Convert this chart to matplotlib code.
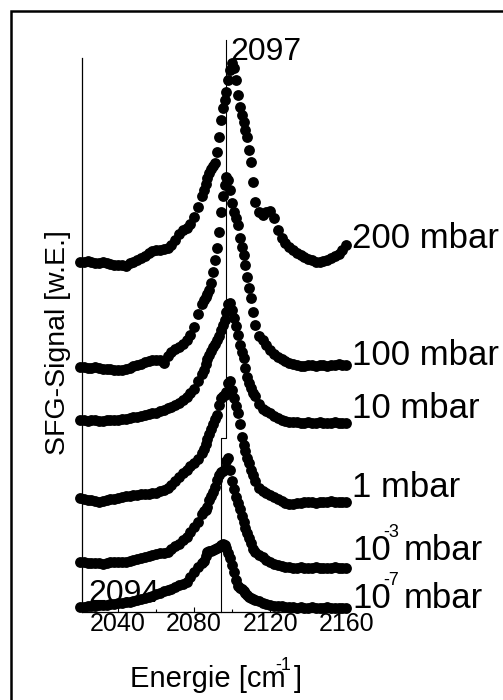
import matplotlib.pyplot as plt
from matplotlib.patches import Rectangle

plt.rcParams['font.family'] = ['Liberation Sans', 'DejaVu Sans']

# Energy axis in cm^-1 (1 cm^-1 steps across the CO band, 2 cm^-1 elsewhere)
energy = [2020, 2022, 2024, 2026, 2028, 2030, 2032, 2034, 2036, 2038, 2040,
          2042, 2044, 2046, 2048, 2050, 2052, 2054, 2056, 2058, 2060, 2062,
          2064, 2066, 2068, 2070, 2072, 2074, 2076, 2078, 2080, 2082, 2084,
          2085, 2086, 2087, 2088, 2089, 2090, 2091, 2092, 2093, 2094, 2095,
          2096, 2097, 2098, 2099, 2100, 2101, 2102, 2103, 2104, 2105, 2106,
          2107, 2108, 2109, 2110, 2111,
          2112, 2114, 2116, 2118, 2120, 2122, 2124, 2126, 2128, 2130, 2132,
          2134, 2136, 2138, 2140, 2142, 2144, 2146, 2148, 2150, 2152, 2154,
          2156, 2158, 2160]

# SFG signal, stacked with offsets (arb. units)
sfg_200mbar = [350, 350, 351, 350, 349, 349, 350, 349, 348, 347, 347, 347, 346,
               349, 350, 352, 354, 356, 359, 361, 362, 362, 363, 364, 367, 372,
               378, 382, 384, 388, 395, 405, 416,
               422, 428, 434, 439, 443, 446, 449, 460, 475, 492, 504, 512, 520,
               532, 542, 549, 544, 532, 517, 505, 497, 490, 482, 475, 462, 450,
               430,
               410, 400, 397, 400, 401, 394, 382, 374, 369, 365, 362, 359, 357,
               355, 353, 352, 350, 350, 351, 352, 354, 356, 358, 362, 367]
sfg_100mbar = [245, 245, 244, 244, 245, 244, 243, 243, 243, 242, 242, 242, 243,
               244, 246, 247, 248, 250, 251, 252, 252, 252, 249, 256, 260, 263,
               265, 268, 272, 277, 285, 298, 308,
               312, 315, 318, 322, 329, 340, 352, 364, 380, 400, 416, 427, 435,
               432, 422, 409, 400, 394, 387, 374, 365, 357, 347, 335, 324, 314,
               300,
               287, 276, 272, 267, 262, 258, 255, 253, 251, 249, 248, 247, 246,
               246, 247, 247, 246, 247, 247, 246, 247, 247, 248, 247, 247]
sfg_10mbar = [192, 192, 191, 192, 192, 191, 191, 192, 192, 192, 192, 193, 193,
              194, 195, 195, 196, 197, 198, 199, 199, 201, 202, 204, 205, 207,
              209, 212, 215, 219, 223, 231, 238,
              242, 248, 253, 257, 261, 265, 268, 272, 276, 282, 287, 292, 300,
              308, 309, 302, 294, 286, 277, 267, 260, 254, 244, 235, 229, 224,
              219,
              216, 208, 203, 201, 199, 196, 194, 192, 191, 190, 190, 190, 189,
              189, 190, 189, 189, 190, 189, 189, 189, 190, 189, 189, 189]
sfg_1mbar = [114, 113, 112, 112, 111, 110, 111, 112, 113, 113, 114, 115, 116,
             116, 117, 117, 118, 118, 118, 119, 119, 121, 122, 124, 127, 131,
             135, 139, 142, 146, 149, 153, 159,
             163, 168, 173, 178, 183, 188, 193, 197, 207, 214, 216, 217, 220,
             229, 231, 222, 214, 206, 199, 188, 175, 167, 161, 154, 149, 142,
             137,
             131, 124, 121, 119, 117, 115, 113, 111, 109, 108, 108, 109, 109,
             110, 110, 110, 109, 110, 110, 110, 111, 110, 110, 110, 110]
sfg_1e3mbar = [50, 50, 49, 49, 49, 49, 48, 49, 50, 50, 50, 50, 50,
               51, 52, 53, 54, 55, 56, 57, 58, 59, 59, 60, 63, 66,
               68, 72, 75, 80, 85, 90, 98,
               101, 102, 105, 112, 116, 120, 125, 132, 137, 140, 141, 143, 151,
               154, 142, 131, 123, 115, 109, 103, 96, 90, 84, 79, 74, 69,
               63,
               60, 57, 55, 52, 50, 48, 47, 46, 45, 45, 44, 44, 45,
               44, 44, 44, 45, 44, 44, 44, 44, 45, 44, 44, 44]
sfg_1e7mbar = [5, 5, 6, 6, 6, 7, 7, 7, 8, 8, 9, 9, 10,
               10, 11, 12, 13, 14, 15, 16, 18, 19, 21, 22, 23, 25,
               27, 28, 30, 35, 40, 45, 49,
               51, 56, 60, 61, 61, 62, 63, 64, 65, 67, 68, 67, 64,
               59, 54, 47, 40, 32, 26, 24, 23, 21, 19, 17, 15, 14,
               13,
               12, 11, 9, 8, 7, 6, 6, 6, 5, 5, 5, 4, 5,
               4, 4, 5, 4, 4, 4, 5, 4, 4, 4, 4, 4]

spectra = [sfg_200mbar, sfg_100mbar, sfg_10mbar, sfg_1mbar, sfg_1e3mbar, sfg_1e7mbar]
pressure = ['200', '100', '10', '1', '10', '10']
pressure_exp = ['', '', '', '', '-3', '-7']

# band positions marked in the plot
peak_high = 2097
peak_low = 2094

fig = plt.figure(figsize=(5.03, 7.0), dpi=100)
ax = fig.add_axes([0.163, 0.1257, 0.529, 0.7914])

for sig in spectra:
    ax.plot(energy, sig, 'o', color='black', ms=7.8, mew=0, clip_on=False)

# stepped marker line: high-pressure band above, low-pressure band below
ax.plot([peak_high, peak_high, peak_low, peak_low], [572, 174, 174, 0],
        color='black', lw=0.8, clip_on=False)
ax.annotate(str(peak_high), xy=(peak_high, 552), xytext=(3, 0),
            textcoords='offset points', fontsize=23, va='baseline',
            annotation_clip=False)
ax.annotate(str(peak_low), xy=(peak_low, 10), xytext=(-44, 0),
            textcoords='offset points', fontsize=23, va='baseline', ha='right',
            annotation_clip=False)

# pressure labels at the right end of each trace
label_x = 2163.2
label_y = [364, 247, 194, 115, 52, 4]
for base, exp, y in zip(pressure, pressure_exp, label_y):
    if not exp:
        ax.text(label_x, y, base + ' mbar', fontsize=25, va='baseline', clip_on=False)
        continue
    ax.text(label_x, y, base, fontsize=25, va='baseline', clip_on=False)
    ax.annotate(exp, xy=(label_x, y), xytext=(22.5, 16.8), textcoords='offset points',
                fontsize=13, va='baseline', annotation_clip=False)
    ax.annotate('mbar', xy=(label_x, y), xytext=(37, 0), textcoords='offset points',
                fontsize=25, va='baseline', annotation_clip=False)

ax.set_xlim(2021, 2161)
ax.set_ylim(0, 554)
ax.set_xticks([2040, 2080, 2120, 2160])
ax.set_xticks([2060, 2100, 2140], minor=True)
ax.set_yticks([])
ax.tick_params(axis='x', which='both', direction='in', width=0.8, labelsize=18, pad=0.3)
ax.tick_params(axis='x', which='major', length=3.6)
ax.tick_params(axis='x', which='minor', length=2.5)
for side in ['top', 'right']:
    ax.spines[side].set_visible(False)
for side in ['left', 'bottom']:
    ax.spines[side].set_linewidth(0.9)

ax.set_ylabel('SFG-Signal [w.E.]', fontsize=20.5)
ax.yaxis.set_label_coords(-0.041, 0.487)

# x label with a raised exponent
xl_pos = (0.179, -0.135)
ax.text(*xl_pos, 'Energie [cm', transform=ax.transAxes, fontsize=21, va='baseline')
ax.annotate('-1', xy=xl_pos, xycoords='axes fraction', xytext=(104.5, 12.2),
            textcoords='offset points', fontsize=13, va='baseline')
ax.annotate(']', xy=xl_pos, xycoords='axes fraction', xytext=(118.5, 0),
            textcoords='offset points', fontsize=21, va='baseline')

# outer frame
fig.patches.append(Rectangle((11.2 / 503, -0.5), 2.0, 0.5 + 1 - 11.2 / 700,
                             transform=fig.transFigure, fill=False,
                             lw=1.8, edgecolor='black'))

fig.savefig('out.png', dpi=100)
